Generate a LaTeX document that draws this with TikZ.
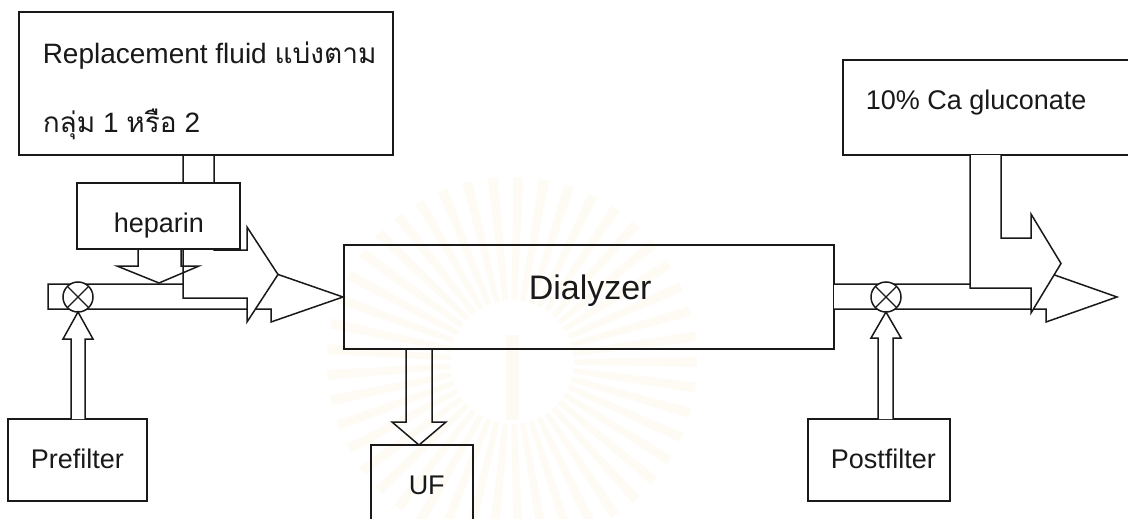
\documentclass[tikz,border=0pt]{standalone}
\usepackage{fontspec}
\setmainfont{Liberation Sans}
\newfontfamily\thaifont[Script=Thai]{Loma}
\usetikzlibrary{calc}
\definecolor{ink}{RGB}{25,25,25}
\definecolor{sunray}{RGB}{240,214,140}
\begin{document}
\begin{tikzpicture}[x=1pt,y=-1pt,
  line width=1.5pt, line join=miter, draw=ink,
  box/.style={draw=ink, line width=1.5pt, rectangle, inner sep=0pt, outer sep=0pt, anchor=north west},
  solid box/.style={box, fill=white},
  lbl/.style={anchor=base west, inner sep=0pt, text=ink, font=\fontsize{27}{30}\selectfont},
  wide lbl/.style={lbl, font=\fontsize{28}{32}\selectfont},
  big lbl/.style={lbl, font=\fontsize{34}{38}\selectfont},
  blockarrow/.style={draw=ink, line width=1.5pt},
  valve/.style={circle, draw=ink, fill=white, line width=1.5pt, minimum size=30pt, inner sep=0pt, outer sep=0pt}]
\useasboundingbox (0,0) rectangle (1128,519);
\fill[white] (0,0) rectangle (1128,519);
\begin{scope}
\clip (0,0) rectangle (1128,519);

% faint emblem in the background
\foreach \a in {0,8,...,352}{
  \fill[sunray, opacity=0.09]
    ($(512,362)+(\a-2.5:62)$) -- ($(512,362)+(\a-1.5:185)$) arc[start angle=-\a+1.5, end angle=-\a-1.5, radius=185pt]
    -- ($(512,362)+(\a+2.5:62)$) -- cycle;
}
\fill[sunray, opacity=0.10] (506,335) rectangle (519,420);

% ---------- inlet line: blood arrow into the dialyzer
\filldraw[blockarrow, fill=white]
  (48,284) -- (271,284) -- (271,272) -- (343,297) -- (271,322) -- (271,309) -- (48,309) -- cycle;

% replacement fluid: bent block arrow
\fill[white] (183,150) -- (183,298) -- (247,298) -- (247,322) -- (278,274.5)
  -- (247,227) -- (247,250) -- (214,250) -- (214,150) -- cycle;

% boxes on the left
\node[solid box, minimum width=374pt, minimum height=143pt] (repl) at (19,12) {};
\draw[blockarrow] (183,0 |- repl.south) -- (183,298) -- (247,298) -- (247,322) -- (278,274.5)
  -- (247,227) -- (247,250) -- (214,250) -- (214,0 |- repl.south);
\node[solid box, minimum width=163pt, minimum height=66pt] (hep) at (77,183) {};

% heparin feed
\draw[blockarrow] (138,0 |- hep.south) -- (138,266) -- (117,266) -- (159,283)
  -- (199,266) -- (181,266) -- (181,0 |- hep.south);

% prefilter valve and feed
\node[valve] (valveL) at (78,297) {};
\draw[line width=1.3pt] (valveL.north east) -- (valveL.south west)
  (valveL.north west) -- (valveL.south east);
\node[solid box, minimum width=139pt, minimum height=82pt] (pre) at (8,419) {};
\filldraw[blockarrow, fill=white] (71,0 |- pre.north) -- (71,339) -- (63,339) -- (valveL.south)
  -- (93,339) -- (85,339) -- (85,0 |- pre.north);

% dialyzer
\node[box, minimum width=490pt, minimum height=104pt] (dial) at (344,245) {};

% ultrafiltrate
\node[box, minimum width=102pt, minimum height=100pt] (uf) at (371,445) {};
\draw[blockarrow] (406,0 |- dial.south) -- (406,422) -- (392,422) -- (419,0 |- uf.north)
  -- (446,422) -- (432,422) -- (432,0 |- dial.south);

% ---------- outlet line
\filldraw[blockarrow, fill=white]
  (dial.east |- 0,284) -- (1046,284) -- (1046,272) -- (1117,297) -- (1046,322) -- (1046,309) -- (dial.east |- 0,309);

\node[solid box, minimum width=300pt, minimum height=95pt] (ca) at (843,60) {};
\filldraw[blockarrow, fill=white] (970,0 |- ca.south) -- (970,288) -- (1031,288) -- (1031,313) -- (1061,263.5)
  -- (1031,214) -- (1031,238) -- (1001,238) -- (1001,0 |- ca.south);

% postfilter valve and feed
\node[valve] (valveR) at (886,297) {};
\draw[line width=1.3pt] (valveR.north east) -- (valveR.south west)
  (valveR.north west) -- (valveR.south east);
\node[solid box, minimum width=142pt, minimum height=82pt] (post) at (808,419) {};
\filldraw[blockarrow, fill=white] (878,0 |- post.north) -- (878,338) -- (871,338) -- (valveR.south)
  -- (901,338) -- (893,338) -- (893,0 |- post.north);

% ---------- labels
\node[wide lbl] (t1) at (42,64) {Replacement fluid {\thaifont แบ่งตาม}};
\node[wide lbl] (t2) at (42,132) {{\thaifont กลุ่ม} 1 {\thaifont หรือ} 2};
\node[lbl] (t3) at (113,232) {heparin};
\node[big lbl] (t4) at (528,299) {Dialyzer};
\node[lbl] (t5) at (865,110) {10\% Ca gluconate};
\node[lbl] (t6) at (30,468) {Prefilter};
\node[lbl] (t7) at (408,494) {UF};
\node[lbl] (t8) at (830,468) {Postfilter};
\end{scope}
\end{tikzpicture}
\end{document}
